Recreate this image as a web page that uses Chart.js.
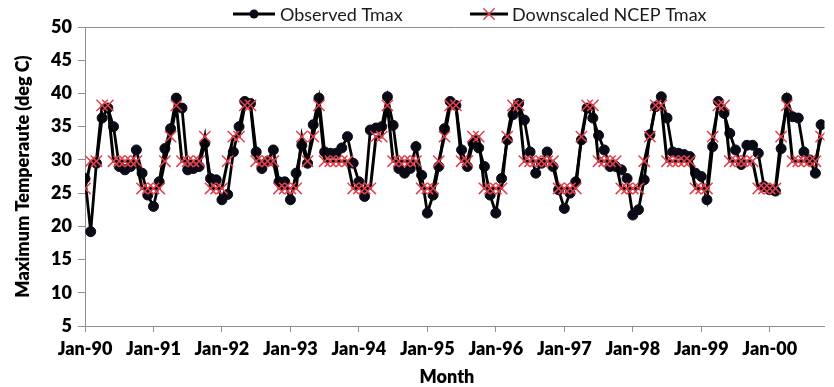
<!DOCTYPE html>
<html>
<head>
<meta charset="utf-8">
<script src="https://cdn.jsdelivr.net/npm/chart.js@4.4.1/dist/chart.umd.min.js"></script>
<style>
  html, body { margin: 0; padding: 0; background: #ffffff; }
  #wrap { width: 834px; height: 387px; }
</style>
</head>
<body>
<div id="wrap"><canvas id="tmaxChart" width="834" height="387"></canvas></div>
<script>
// Year tick labels shown along the month axis (one per January)
const tickLabels = ['Jan-90', 'Jan-91', 'Jan-92', 'Jan-93', 'Jan-94', 'Jan-95',
                    'Jan-96', 'Jan-97', 'Jan-98', 'Jan-99', 'Jan-00'];

// Monthly observed maximum temperature, Jan 1990 onwards (deg C)
const observedTmax = [
  27.2, 19.2, 29.5, 36.3, 37.8, 35.0, 29.0, 28.5, 29.0, 31.5, 28.0, 24.7,   // 1990
  23.0, 26.7, 31.7, 34.7, 39.3, 37.8, 28.5, 28.7, 29.0, 32.5, 27.2, 27.0,   // 1991
  24.0, 24.8, 31.2, 35.0, 38.8, 38.5, 31.2, 28.7, 29.8, 31.5, 26.7, 26.7,   // 1992
  24.0, 28.0, 32.2, 29.5, 35.3, 39.3, 31.2, 31.0, 31.0, 31.8, 33.5, 29.5,   // 1993
  26.7, 24.5, 34.5, 34.8, 35.0, 39.5, 35.2, 28.7, 28.0, 28.7, 32.0, 27.7,   // 1994
  22.0, 24.7, 29.0, 34.7, 38.8, 38.2, 31.5, 29.0, 32.5, 31.8, 29.0, 24.7,   // 1995
  22.0, 27.2, 33.0, 36.8, 38.5, 36.0, 31.2, 28.0, 29.5, 31.2, 29.0, 25.5,   // 1996
  22.7, 25.0, 26.7, 33.0, 37.8, 36.3, 33.7, 31.5, 29.0, 29.0, 28.5, 27.2,   // 1997
  21.7, 22.5, 27.0, 33.8, 38.0, 39.5, 36.3, 31.2, 31.0, 30.8, 30.5, 28.0,   // 1998
  27.5, 24.0, 32.0, 38.8, 37.0, 34.0, 31.5, 29.3, 32.2, 32.2, 31.0, 26.0,   // 1999
  25.5, 25.3, 31.7, 39.3, 36.5, 36.3, 31.2, 30.0, 28.0, 35.3                // 2000
];

// Monthly maximum temperature downscaled from NCEP reanalysis (deg C)
const downscaledTmax = [
  25.7, 29.8, 29.8, 38.2, 38.2, 29.8, 29.8, 29.8, 29.8, 29.8, 25.7, 25.7,   // 1990
  25.7, 25.7, 29.8, 33.5, 38.2, 29.8, 29.8, 29.8, 29.8, 33.5, 25.7, 25.7,   // 1991
  25.7, 29.8, 33.5, 33.5, 38.2, 38.2, 29.8, 29.8, 29.8, 29.8, 25.7, 25.7,   // 1992
  25.7, 25.7, 33.5, 29.8, 33.5, 38.2, 29.8, 29.8, 29.8, 29.8, 29.8, 25.7,   // 1993
  25.7, 25.7, 25.7, 33.5, 33.5, 38.2, 29.8, 29.8, 29.8, 29.8, 29.8, 25.7,   // 1994
  25.7, 25.7, 29.8, 33.5, 38.2, 38.2, 29.8, 29.8, 33.5, 33.5, 25.7, 25.7,   // 1995
  25.7, 25.7, 33.5, 38.2, 38.2, 29.8, 29.8, 29.8, 29.8, 29.8, 29.8, 25.7,   // 1996
  25.7, 25.7, 25.7, 33.5, 38.2, 38.2, 29.8, 29.8, 29.8, 29.8, 25.7, 25.7,   // 1997
  25.7, 25.7, 29.8, 33.5, 38.2, 38.2, 29.8, 29.8, 29.8, 29.8, 29.8, 25.7,   // 1998
  25.7, 25.7, 33.5, 38.2, 38.2, 29.8, 29.8, 29.8, 29.8, 29.8, 25.7, 25.7,   // 1999
  25.7, 25.7, 33.5, 38.2, 29.8, 29.8, 29.8, 29.8, 29.8, 33.5                // 2000
];

const AXIS_GREY = '#8f8f8f';
const LABEL_FONT = { family: 'Lato', size: 18, weight: 800 };

const toPoints = values => values.map((v, i) => ({ x: i, y: v }));

// Legend with a line-through-marker sample, plus the x-axis title
const lineLegend = {
  id: 'lineLegend',
  afterDraw(chart, args, opts) {
    const ctx = chart.ctx;
    ctx.save();
    chart.data.datasets.forEach((ds, idx) => {
      const spot = opts.items[idx];
      const y = opts.y;
      ctx.strokeStyle = ds.borderColor;
      ctx.lineWidth = ds.borderWidth;
      ctx.beginPath();
      ctx.moveTo(spot.x0, y);
      ctx.lineTo(spot.x1, y);
      ctx.stroke();
      const cx = (spot.x0 + spot.x1) / 2;
      const r = spot.r;
      if (ds.pointStyle === 'circle') {
        ctx.fillStyle = ds.pointBackgroundColor;
        ctx.beginPath();
        ctx.arc(cx, y, r, 0, Math.PI * 2);
        ctx.fill();
      } else {
        ctx.strokeStyle = ds.pointBorderColor;
        ctx.lineWidth = ds.pointBorderWidth;
        const d = r * Math.SQRT1_2;
        ctx.beginPath();
        ctx.moveTo(cx - d, y - d); ctx.lineTo(cx + d, y + d);
        ctx.moveTo(cx - d, y + d); ctx.lineTo(cx + d, y - d);
        ctx.stroke();
      }
      ctx.fillStyle = opts.color;
      ctx.font = opts.font;
      ctx.textAlign = 'left';
      ctx.textBaseline = 'middle';
      ctx.fillText(ds.label, spot.textX, y + 1);
    });
    ctx.fillStyle = '#000';
    ctx.font = '800 18px Lato';
    ctx.textAlign = 'center';
    ctx.textBaseline = 'middle';
    ctx.fillText(opts.xTitle, opts.xTitleX, opts.xTitleY);
    ctx.restore();
  }
};

new Chart(document.getElementById('tmaxChart'), {
  type: 'line',
  data: {
    datasets: [
      {
        label: 'Observed Tmax',
        data: toPoints(observedTmax),
        borderColor: '#000000',
        borderWidth: 2.8,
        pointStyle: 'circle',
        pointRadius: 5,
        pointBackgroundColor: '#0b0b18',
        pointBorderColor: '#0b0b18',
        pointBorderWidth: 1,
        tension: 0,
        order: 2
      },
      {
        label: 'Downscaled NCEP Tmax',
        data: toPoints(downscaledTmax),
        borderColor: '#000000',
        borderWidth: 3,
        pointStyle: 'crossRot',
        pointRadius: 8,
        pointBorderColor: '#e5404e',
        pointBorderWidth: 1.5,
        tension: 0,
        order: 1
      }
    ]
  },
  options: {
    responsive: false,
    animation: false,
    events: [],
    layout: { padding: { top: 27, left: 0, right: 0, bottom: 0 } },
    plugins: {
      legend: { display: false },
      tooltip: { enabled: false },
      lineLegend: {
        y: 14,
        font: '18px Lato',
        color: '#1a1a1a',
        items: [
          { x0: 233, x1: 275, textX: 280, r: 4.5 },
          { x0: 470, x1: 508, textX: 512, r: 8 }
        ],
        xTitle: 'Month',
        xTitleX: 447,
        xTitleY: 377
      }
    },
    scales: {
      x: {
        type: 'linear',
        min: 0,
        max: 129.6,
        border: { display: true, color: AXIS_GREY, width: 1 },
        grid: { display: true, drawOnChartArea: false, drawTicks: true, tickLength: 6, tickColor: AXIS_GREY },
        ticks: {
          stepSize: 12,
          includeBounds: false,
          autoSkip: false,
          maxRotation: 0,
          padding: 6,
          color: '#000',
          font: LABEL_FONT,
          callback: v => tickLabels[v / 12] ?? ''
        },
        afterFit(scale) { scale.height = 61; }
      },
      y: {
        min: 5,
        max: 50,
        border: { display: true, color: AXIS_GREY, width: 1 },
        grid: {
          drawOnChartArea: true,
          color: c => (c.tick && c.tick.value === 50 ? AXIS_GREY : 'rgba(0,0,0,0)'),
          tickColor: AXIS_GREY,
          tickLength: 7
        },
        ticks: { stepSize: 5, padding: 6, color: '#000', font: LABEL_FONT },
        title: {
          display: true,
          text: 'Maximum Temperaute (deg C)',
          color: '#000',
          font: LABEL_FONT,
          padding: { top: 12, bottom: 0 }
        },
        afterFit(scale) { scale.width = 85; }
      }
    }
  },
  plugins: [lineLegend]
});
</script>
</body>
</html>
